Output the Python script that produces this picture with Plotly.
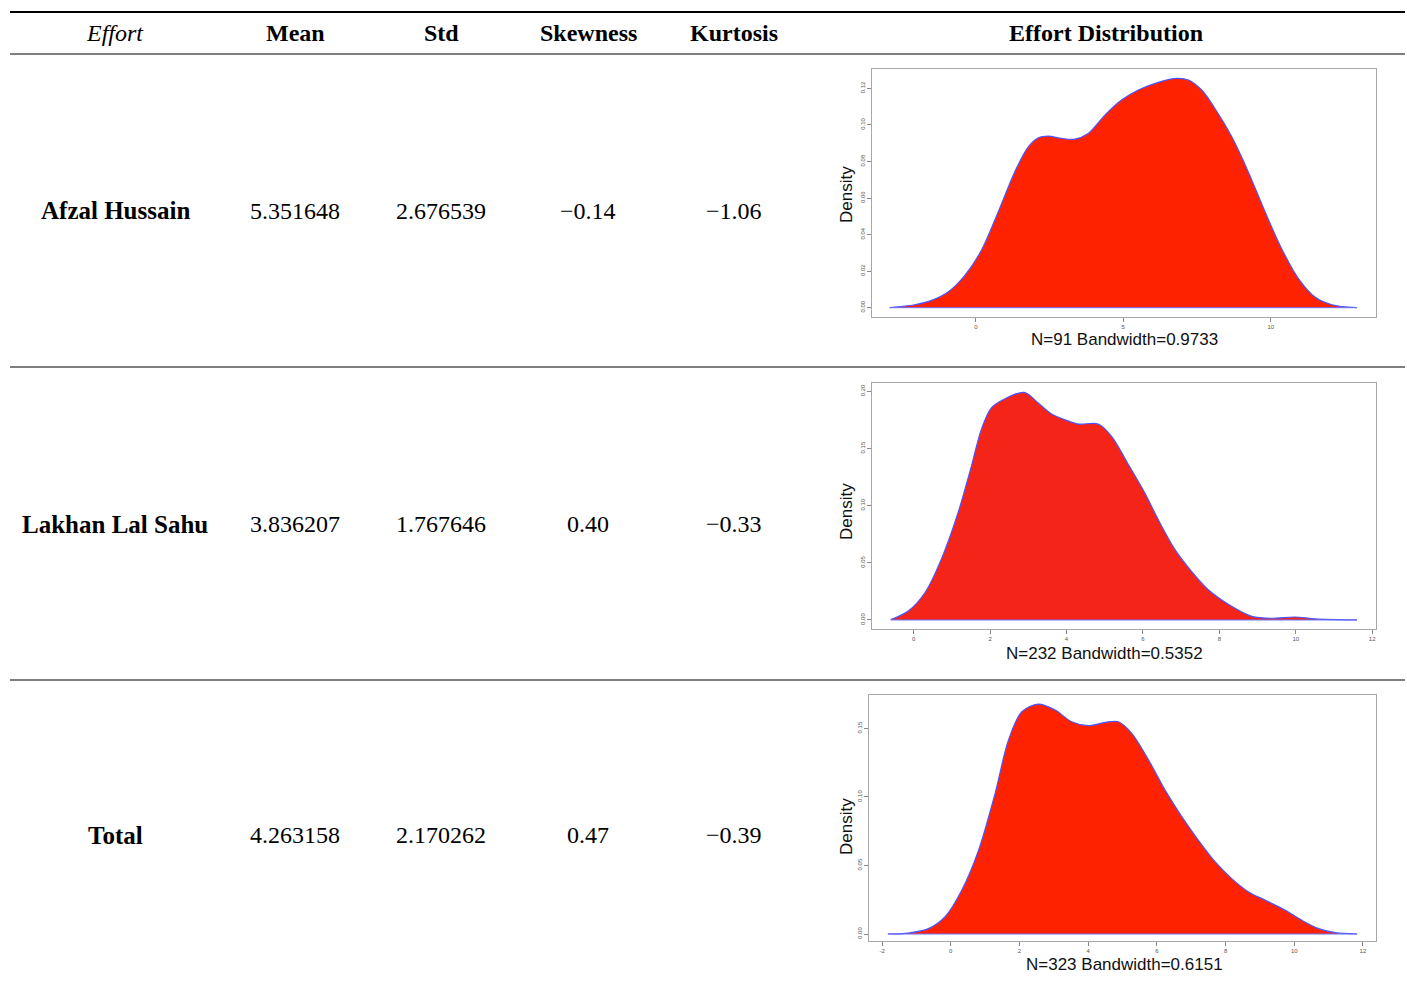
import plotly.graph_objects as go

W, H = 1407, 984

# ---------------- table data ----------------
header = ["Effort", "Mean", "Std", "Skewness", "Kurtosis", "Effort Distribution"]
names = ["Afzal Hussain", "Lakhan Lal Sahu", "Total"]
means = ["5.351648", "3.836207", "4.263158"]
stds = ["2.676539", "1.767646", "2.170262"]
skews = ["\u22120.14", "0.40", "0.47"]
kurts = ["\u22121.06", "\u22120.33", "\u22120.39"]
captions = ["N=91 Bandwidth=0.9733", "N=232 Bandwidth=0.5352", "N=323 Bandwidth=0.6151"]

# ---------------- density curves ----------------
afzal_x = [-2.92, -2.07, -1.50, -0.94, -0.37, 0.19, 0.76, 1.32, 1.78, 2.12, 2.45, 2.91, 3.36,
           3.81, 4.38, 4.94, 5.51, 6.19, 6.81, 7.21, 7.66, 8.11, 8.68, 9.24, 9.81, 10.37,
           10.94, 11.50, 12.07, 12.92]
afzal_y = [0.0, 0.0016, 0.0040, 0.0086, 0.0177, 0.0314, 0.0524, 0.0743, 0.0880, 0.0930, 0.0939,
           0.0926, 0.0922, 0.0953, 0.1054, 0.1136, 0.1191, 0.1233, 0.1255, 0.1246, 0.1191,
           0.1090, 0.0935, 0.0743, 0.0524, 0.0323, 0.0159, 0.0058, 0.0016, 0.0]

lakhan_x = [-0.60, -0.15, 0.29, 0.72, 1.16, 1.51, 1.77, 2.03, 2.38, 2.89, 3.26, 3.61, 3.96,
            4.31, 4.83, 5.18, 5.62, 6.05, 6.40, 6.84, 7.27, 7.71, 8.32, 8.85, 9.37, 9.98,
            10.51, 11.60]
lakhan_y = [0.0003, 0.0076, 0.0236, 0.0528, 0.0936, 0.1344, 0.1665, 0.1854, 0.1933, 0.1991,
            0.1898, 0.1802, 0.1752, 0.1714, 0.1714, 0.1606, 0.1359, 0.1111, 0.0878, 0.0615,
            0.0426, 0.0265, 0.0120, 0.0032, 0.0015, 0.0026, 0.0009, 0.0]

total_x = [-1.83, -1.23, -0.65, -0.17, 0.32, 0.81, 1.29, 1.68, 2.07, 2.55, 3.04, 3.52, 4.01,
           4.50, 4.88, 5.27, 5.76, 6.24, 6.73, 7.21, 7.70, 8.18, 8.67, 9.16, 9.74, 10.22,
           10.71, 11.19, 11.83]
total_y = [0.0, 0.0007, 0.0039, 0.0124, 0.0319, 0.0611, 0.1025, 0.1415, 0.1622, 0.1678,
           0.1634, 0.1549, 0.1520, 0.1544, 0.1549, 0.1464, 0.1269, 0.1050, 0.0855, 0.0684,
           0.0526, 0.0404, 0.0307, 0.0246, 0.0173, 0.0100, 0.0039, 0.0010, 0.0]

x_ticks = [[0, 5, 10], [0, 2, 4, 6, 8, 10, 12], [-2, 0, 2, 4, 6, 8, 10, 12]]
y_ticks = [[0.00, 0.02, 0.04, 0.06, 0.08, 0.10, 0.12],
           [0.00, 0.05, 0.10, 0.15, 0.20],
           [0.00, 0.05, 0.10, 0.15]]

curves = [(afzal_x, afzal_y), (lakhan_x, lakhan_y), (total_x, total_y)]
fills = ["#ff2200", "#f42418", "#ff2200"]

# ---------------- layout geometry (pixels) ----------------
def px(x):
    return x / W

def py(y):
    return 1 - y / H

panels = [
    dict(x0=872, x1=1376, y0=69, y1=317, xr=[-3.52, 13.57], yr=[-0.0051, 0.1306],
         dens_y=195, cap=(1124, 340)),
    dict(x0=872, x1=1376, y0=383, y1=629, xr=[-1.09, 12.10], yr=[-0.0079, 0.2073],
         dens_y=512, cap=(1104, 653)),
    dict(x0=869, x1=1376, y0=695, y1=941, xr=[-2.38, 12.38], yr=[-0.0051, 0.1744],
         dens_y=827, cap=(1124, 964)),
]

fig = go.Figure()
layout_axes = {}
shapes = []
annotations = []

for i, ((cx, cy), p) in enumerate(zip(curves, panels)):
    n = "" if i == 0 else str(i + 1)
    xa, ya = "x" + n, "y" + n
    fig.add_trace(go.Scatter(
        x=cx, y=cy, xaxis=xa, yaxis=ya, mode="lines",
        line=dict(color="#4a55ff", width=1.2, shape="spline", smoothing=0.9),
        fill="tozeroy", fillcolor=fills[i], showlegend=False, hoverinfo="skip"))
    # baseline border of the polygon
    shapes.append(dict(type="line", xref=xa, yref=ya, x0=cx[0], x1=cx[-1], y0=0, y1=0,
                       line=dict(color="#6a70ff", width=1)))
    layout_axes["xaxis" + n] = dict(
        domain=[px(p["x0"]), px(p["x1"])], anchor=ya, range=p["xr"],
        tickmode="array", tickvals=x_ticks[i], ticktext=[str(v) for v in x_ticks[i]],
        ticks="outside", ticklen=4, tickcolor="#888", tickwidth=1,
        showgrid=False, zeroline=False, showline=True, mirror=True,
        linecolor="#a8a8a8", linewidth=1.2,
        tickfont=dict(family="Liberation Sans", size=6, color="#555"))
    layout_axes["yaxis" + n] = dict(
        domain=[py(p["y1"]), py(p["y0"])], anchor=xa, range=p["yr"],
        tickmode="array", tickvals=y_ticks[i], ticktext=["%.2f" % v for v in y_ticks[i]],
        ticks="outside", ticklen=4, tickcolor="#888", tickwidth=1, tickangle=-90,
        showgrid=False, zeroline=False, showline=True, mirror=True,
        linecolor="#a8a8a8", linewidth=1.2,
        tickfont=dict(family="Liberation Sans", size=6, color="#555"))
    annotations.append(dict(xref="paper", yref="paper", x=px(846), y=py(p["dens_y"]),
                            text="Density", textangle=-90, showarrow=False,
                            xanchor="center", yanchor="middle",
                            font=dict(family="Liberation Sans", size=17, color="#111")))
    annotations.append(dict(xref="paper", yref="paper", x=px(p["cap"][0]), y=py(p["cap"][1]),
                            text=captions[i], showarrow=False,
                            xanchor="center", yanchor="middle",
                            font=dict(family="Liberation Sans", size=17, color="#111")))

# ---------------- table text ----------------
serif = "Liberation Serif"
col_x = [115, 295, 441, 588, 734, 1106]
header_y = 33
row_y = [211, 524, 835]

for j, h in enumerate(header):
    txt = "<i>%s</i>" % h if j == 0 else "<b>%s</b>" % h
    annotations.append(dict(xref="paper", yref="paper", x=px(col_x[j]), y=py(header_y),
                            text=txt, showarrow=False, xanchor="center", yanchor="middle",
                            font=dict(family=serif, size=24, color="black")))

for r in range(3):
    vals = ["<b>%s</b>" % names[r], means[r], stds[r], skews[r], kurts[r]]
    for j, v in enumerate(vals):
        annotations.append(dict(xref="paper", yref="paper", x=px(col_x[j]), y=py(row_y[r]),
                                text=v, showarrow=False, xanchor="center", yanchor="middle",
                                font=dict(family=serif, size=25 if j == 0 else 24,
                                          color="black")))

# ---------------- table rules ----------------
rules = [(12, 2.2), (54, 1.2), (367, 1.2), (680, 1.2)]
for yy, lw in rules:
    shapes.append(dict(type="line", xref="paper", yref="paper", x0=px(10), x1=px(1405),
                       y0=py(yy), y1=py(yy), line=dict(color="black", width=lw)))

fig.update_layout(width=W, height=H, margin=dict(l=0, r=0, t=0, b=0),
                  paper_bgcolor="white", plot_bgcolor="white",
                  shapes=shapes, annotations=annotations, **layout_axes)

fig.write_html("out.html", config={"displayModeBar": False},
               post_script="document.body.style.margin='0';document.body.style.overflow='hidden';")
